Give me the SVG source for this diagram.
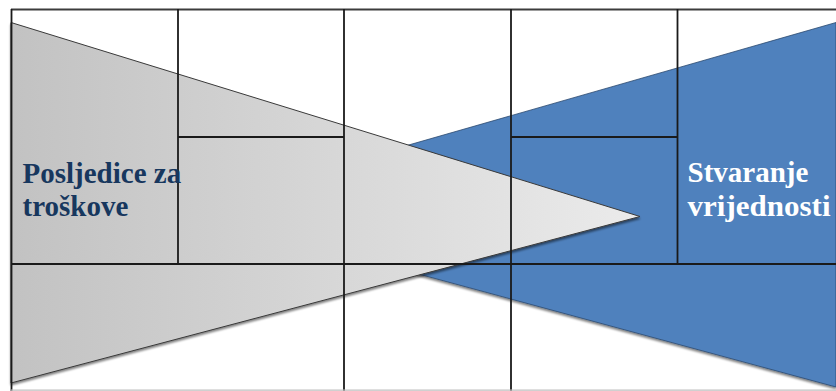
<svg xmlns="http://www.w3.org/2000/svg" width="836" height="391" viewBox="0 0 836 391">
<style>
.grid{stroke:#1a1a1a;stroke-width:1.8;fill:none}
.lbl{font-family:"Liberation Serif","Times New Roman",serif;font-weight:bold;font-size:29px}
</style>
<defs>
<linearGradient id="gg" x1="11" y1="0" x2="640" y2="0" gradientUnits="userSpaceOnUse">
<stop offset="0" stop-color="#c2c2c2"/>
<stop offset="1" stop-color="#ebebeb"/>
</linearGradient>
<filter id="sh" x="-5%" y="-5%" width="110%" height="115%">
<feGaussianBlur in="SourceAlpha" stdDeviation="1.2"/>
<feOffset dx="0" dy="1.5" result="b"/>
<feComponentTransfer><feFuncA type="linear" slope="0.5"/></feComponentTransfer>
<feMerge><feMergeNode/><feMergeNode in="SourceGraphic"/></feMerge>
</filter>
</defs>
<rect width="836" height="391" fill="#ffffff"/>
<g id="value">
<polygon points="836,22.5 836,387 182,210" fill="#4f81bd" stroke="#2c4a70" stroke-width="0.8" filter="url(#sh)"/>
</g>
<g id="cost">
<polygon points="11,22.5 640,216.5 11,383" fill="url(#gg)" stroke="#3a3a3a" stroke-width="1" filter="url(#sh)"/>
</g>
<g id="grid">
<line x1="11" y1="9.5" x2="836" y2="9.5" stroke="#3c3c3c" stroke-width="2"/>
<line class="grid" x1="11.5" y1="9" x2="11.5" y2="391"/>
<line class="grid" x1="178" y1="9" x2="178" y2="264"/>
<line class="grid" x1="344" y1="9" x2="344" y2="391"/>
<line class="grid" x1="511" y1="9" x2="511" y2="391"/>
<line class="grid" x1="677.5" y1="9" x2="677.5" y2="264"/>
<line class="grid" x1="11" y1="264" x2="836" y2="264"/>
<line class="grid" x1="178" y1="137" x2="344" y2="137"/>
<line class="grid" x1="511" y1="137" x2="677.5" y2="137"/>
<line x1="11" y1="390.2" x2="836" y2="390.2" stroke="#c0c0c0" stroke-width="1.2"/>
</g>
<g id="label-cost">
<text class="lbl" fill="#17375e" x="22.5" y="182.5">Posljedice za</text>
<text class="lbl" fill="#17375e" x="22.5" y="216">troškove</text>
</g>
<g id="label-value">
<text class="lbl" fill="#ffffff" x="687.5" y="182">Stvaranje</text>
<text class="lbl" fill="#ffffff" x="687.5" y="215.5" textLength="143" lengthAdjust="spacingAndGlyphs">vrijednosti</text>
</g>
</svg>
